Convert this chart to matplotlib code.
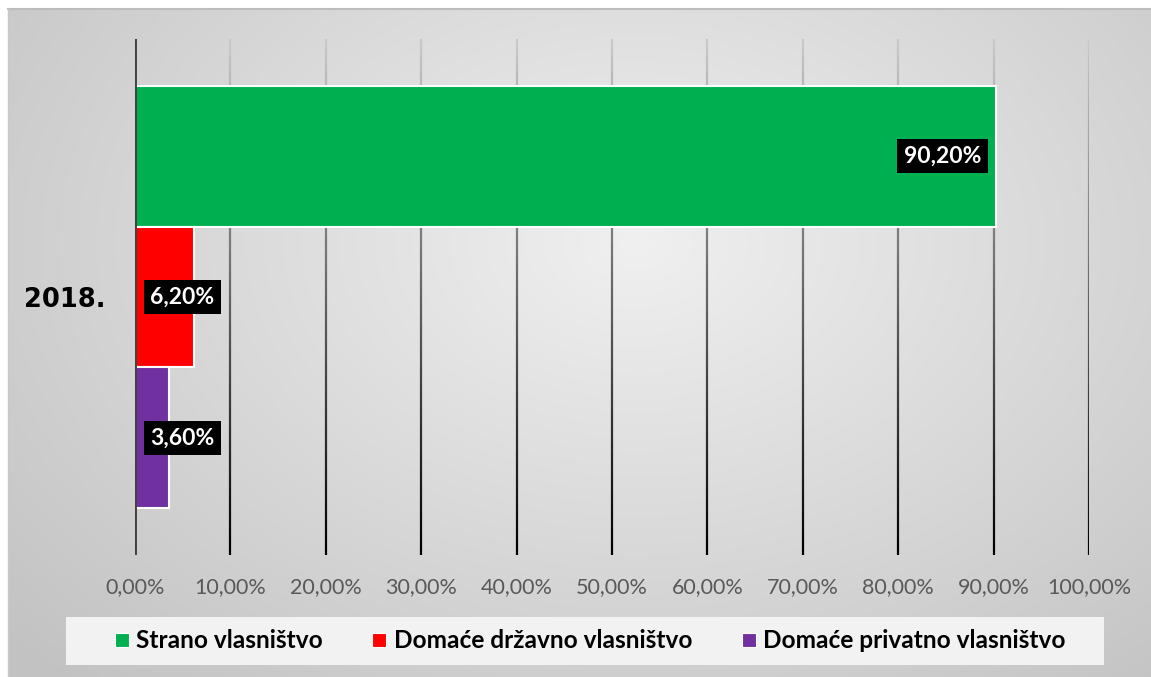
import numpy as np
import matplotlib.pyplot as plt
from matplotlib.collections import LineCollection
from matplotlib.patches import Rectangle
from matplotlib.lines import Line2D
from matplotlib.colors import to_rgb

# podaci
years = ['2018.']
series = ['Strano vlasništvo', 'Domaće državno vlasništvo', 'Domaće privatno vlasništvo']
values = [90.2, 6.2, 3.6]
colors = ['#00b050', '#ff0000', '#7030a0']
xticks = [0, 10, 20, 30, 40, 50, 60, 70, 80, 90, 100]

W, H = 1151, 677
fig = plt.figure(figsize=(W / 100, H / 100), dpi=100)
fig.patch.set_facecolor('white')

# pozadina s radijalnim gradijentom
bg = fig.add_axes([8 / W, 0, 1 - 8 / W, 1 - 9 / H], zorder=-10)
gx, gy = np.meshgrid(np.linspace(0, 1, 400), np.linspace(0, 1, 300))
r = np.sqrt(((gx - 0.55) / 0.75) ** 2 + ((gy - 0.35) / 0.9) ** 2)
r = np.clip(r, 0, 1)
light, dark = np.array(to_rgb('#f0f0f0')), np.array(to_rgb('#c2c2c2'))
img = light[None, None, :] * (1 - r[..., None]) + dark[None, None, :] * r[..., None]
bg.imshow(img, extent=(0, 1, 0, 1), aspect='auto', origin='upper')
bg.set_xlim(0, 1)
bg.set_ylim(0, 1)
bg.axis('off')
fig.add_artist(Line2D([8 / W, 1], [1 - 9 / H, 1 - 9 / H], color='#bdbdbd', lw=1.5))
fig.add_artist(Line2D([8 / W, 8 / W], [0, 1 - 9 / H], color='#c8c8c8', lw=1.0))

ax = fig.add_axes([135 / W, 1 - 555 / H, (1089 - 135) / W, 516 / H])
ax.set_facecolor('none')
ax.set_xlim(0, 100)
ax.set_ylim(-0.5, 0.5)

# mreža s gradijentom
n = 60
ys = np.linspace(1, 0, n + 1)
top, bot = np.array(to_rgb('#c8c8c8')), np.array(to_rgb('#000000'))
for t in xticks[1:]:
    segs = [[(t, ys[i]), (t, ys[i + 1])] for i in range(n)]
    cols = [top + (bot - top) * (i / (n - 1)) for i in range(n)]
    ax.add_collection(LineCollection(segs, colors=cols, linewidths=1.6,
                                     transform=ax.get_xaxis_transform(), zorder=1))

h = 0.273
offsets = [h, 0, -h]
for v, c, off in zip(values, colors, offsets):
    ax.barh(off, v, height=h, color=c, edgecolor='white', linewidth=1.5, zorder=3)
    txt = f'{v:.2f}%'.replace('.', ',')
    if v > 20:
        x, ha = v - 1.5, 'right'
    else:
        x, ha = 1.6, 'left'
    ax.text(x, off, txt, ha=ha, va='center', color='white', fontsize=16.5,
            fontweight='bold', family='Lato', zorder=5,
            bbox=dict(boxstyle='square,pad=0.28', fc='black', ec='none'))

ax.axvline(0, color='#404040', lw=2.8, zorder=4)
for s in ax.spines.values():
    s.set_visible(False)

ax.set_xticks(xticks)
ax.set_xticklabels([f'{t:.2f}%'.replace('.', ',') for t in xticks],
                   fontsize=15.5, family='Lato', color='#595959')
ax.set_yticks([0])
ax.set_yticklabels(years, fontsize=18.5, fontweight='bold', family='DejaVu Sans', color='black')
ax.tick_params(axis='x', length=0, pad=16)
ax.tick_params(axis='y', length=0, pad=21)

# legenda
fig.add_artist(Rectangle((66 / W, 1 - 665 / H), (1104 - 66) / W, 48 / H,
                         transform=fig.transFigure, fc='#f2f2f2', ec='none', zorder=1))
handles = [Line2D([], [], marker='s', ls='none', markersize=10, markerfacecolor=c,
                  markeredgecolor='white', markeredgewidth=0.8) for c in colors]
leg = fig.legend(handles, series, loc='center', bbox_to_anchor=(590 / W, 1 - 641 / H),
                 ncol=3, frameon=False, handlelength=0.6, handletextpad=0.3,
                 columnspacing=2.0, prop={'family': 'Lato', 'weight': 'bold', 'size': 17.6})
leg.set_zorder(2)

fig.savefig('out.png', dpi=100)
